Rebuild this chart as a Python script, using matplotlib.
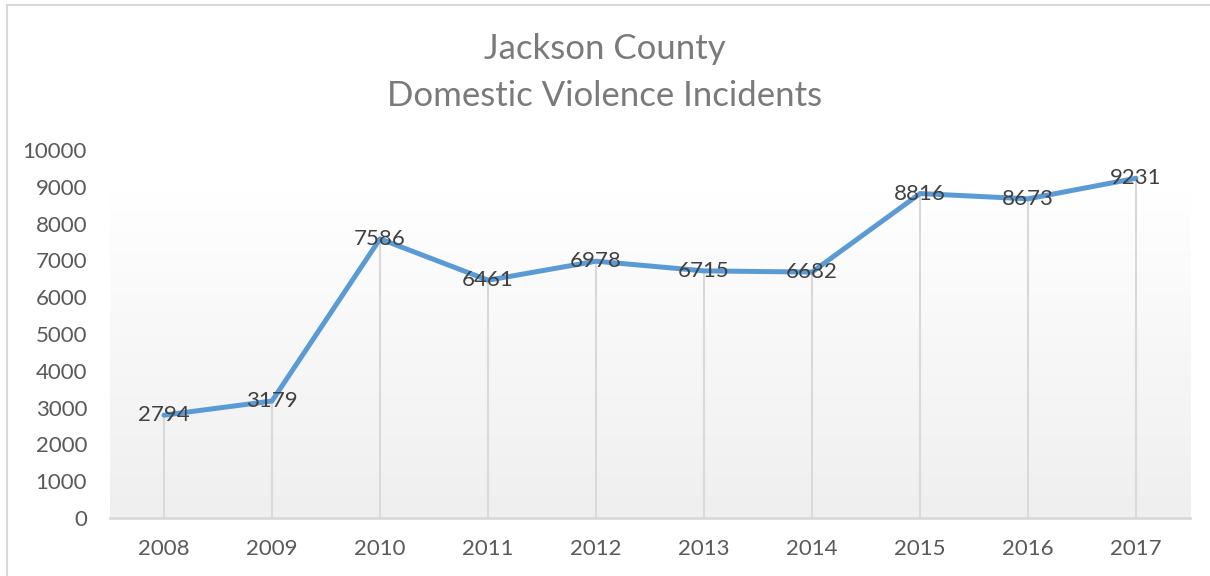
import numpy as np
import matplotlib.pyplot as plt
from matplotlib.colors import LinearSegmentedColormap

years = ['2008', '2009', '2010', '2011', '2012', '2013', '2014', '2015', '2016', '2017']
incidents = [2794, 3179, 7586, 6461, 6978, 6715, 6682, 8816, 8673, 9231]

plt.rcParams['font.family'] = ['Lato', 'DejaVu Sans']

fig = plt.figure(figsize=(12.1, 5.76), dpi=100)
ax = fig.add_axes([0.0909, 0.1007, 0.8926, 0.6389])

x = np.arange(len(years))

# soft gradient behind the plot area, like the Excel fill
grad = np.linspace(1, 0, 256).reshape(-1, 1)
cmap = LinearSegmentedColormap.from_list('fill', ['#efefef', '#ffffff'])
ax.imshow(grad, aspect='auto', cmap=cmap, extent=(-0.5, len(years) - 0.5, 0, 8900),
          origin='upper', zorder=0, vmin=0, vmax=1)

# drop lines
ax.vlines(x, 0, incidents, color='#d9d9d9', linewidth=1.5, zorder=1)

ax.plot(x, incidents, color='#5b9bd5', linewidth=3.6, solid_capstyle='round',
        solid_joinstyle='round', zorder=2)

for xi, v in zip(x, incidents):
    ax.text(xi, v, str(v), ha='center', va='center', fontsize=16, color='#404040', zorder=3)

ax.set_xlim(-0.5, len(years) - 0.5)
ax.set_ylim(0, 10000)
ax.set_yticks(range(0, 10001, 1000))
ax.set_xticks(x)
ax.set_xticklabels(years)
ax.tick_params(axis='both', length=0, labelsize=16, colors='#595959')
ax.tick_params(axis='x', pad=15)
ax.tick_params(axis='y', pad=16.5)

for side in ['top', 'right', 'left']:
    ax.spines[side].set_visible(False)
ax.spines['bottom'].set_color('#d9d9d9')
ax.spines['bottom'].set_linewidth(2)

fig.text(0.5, 0.915, 'Jackson County', ha='center', va='center', fontsize=25, color='#7a7a7a')
fig.text(0.5, 0.834, 'Domestic Violence Incidents', ha='center', va='center', fontsize=25, color='#7a7a7a')

# chart border (left and top)
fig.add_artist(plt.Line2D([0.0058, 0.0058], [0, 0.991], color='#d9d9d9', linewidth=1.5))
fig.add_artist(plt.Line2D([0.0058, 1.0], [0.991, 0.991], color='#d9d9d9', linewidth=1.5))

fig.savefig('out.png', dpi=100)
